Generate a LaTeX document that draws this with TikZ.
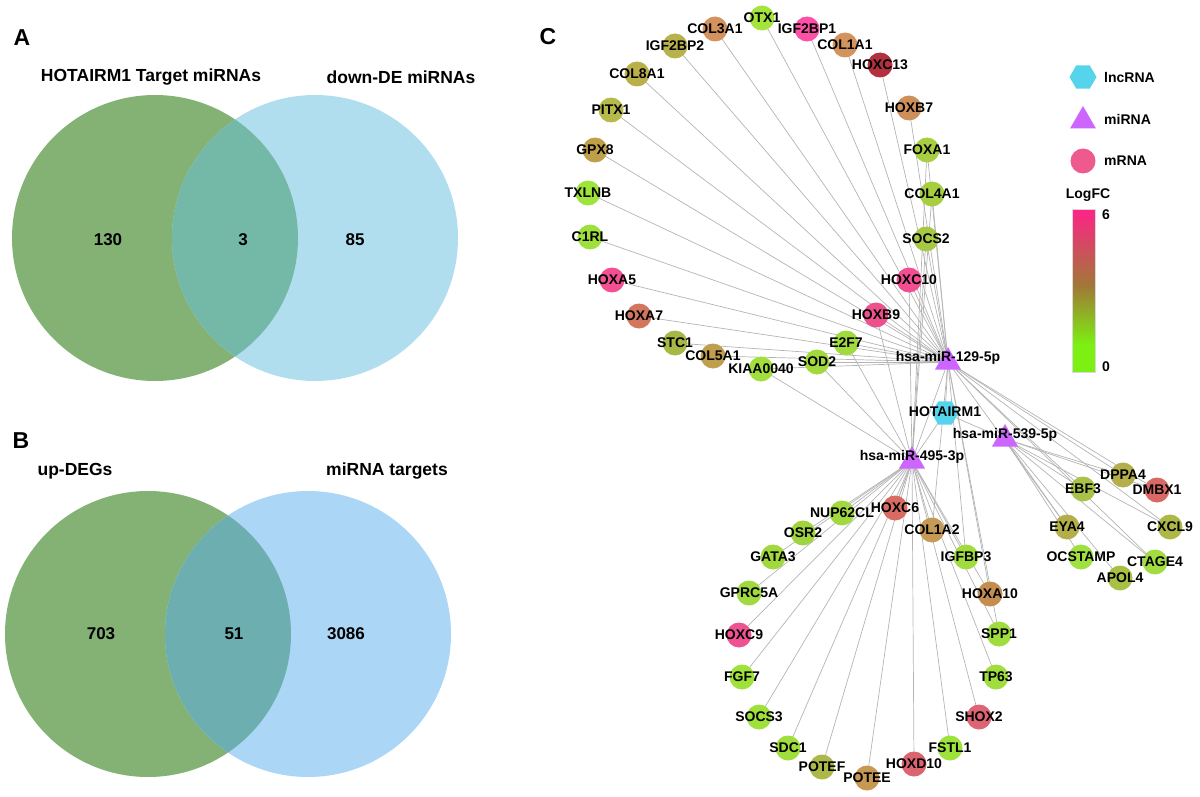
\documentclass[tikz,border=0pt]{standalone}
\usepackage{fontspec}
\setmainfont{Liberation Sans}
\usetikzlibrary{shapes.geometric}
\pgfdeclarelayer{background}
\pgfsetlayers{background,main}
\definecolor{vGreen}{HTML}{84B174}
\definecolor{vBlueA}{HTML}{B0DEEE}
\definecolor{vOvA}{HTML}{74B8A8}
\definecolor{vBlueB}{HTML}{ABD6F5}
\definecolor{vOvB}{HTML}{6DAFB0}
\definecolor{mirc}{HTML}{CC66FF}
\definecolor{lncc}{HTML}{55D4EC}
\definecolor{edgec}{HTML}{B4B4B4}
\definecolor{cbPink}{HTML}{FF2288}
\definecolor{cbMid}{HTML}{A07A36}
\definecolor{cbLime}{HTML}{7CF012}
\newcommand\gn[4]{\definecolor{c#1}{HTML}{#4}\node[gene, fill=c#1, label={[glab]center:#1}] (#1) at (#2,#3) {};}
\begin{document}
\begin{tikzpicture}[x=1pt,y=-1pt,
  gene/.style={circle, minimum size=25pt, inner sep=0pt},
  glab/.style={font=\bfseries\fontsize{14}{14}\selectfont, inner sep=0pt, text=black},
  mir/.style={regular polygon, regular polygon sides=3, minimum size=30pt, inner sep=0pt, fill=mirc},
  lnc/.style={regular polygon, regular polygon sides=6, minimum size=27pt, inner sep=0pt, fill=lncc},
  edge/.style={draw=edgec, line width=0.7pt},
  vtitle/.style={font=\bfseries\fontsize{17.5}{17.5}\selectfont, inner sep=0pt},
  vnum/.style={font=\bfseries\fontsize{17}{17}\selectfont, inner sep=0pt},
  panel/.style={font=\bfseries\fontsize{23}{23}\selectfont, inner sep=0pt},
  legtxt/.style={font=\bfseries\fontsize{14}{14}\selectfont, inner sep=0pt, anchor=west}]
\useasboundingbox (0,0) rectangle (1200,797);
% ---------- Panel A ----------
\node[panel] (pA) at (22,38) {A};
\fill[vGreen] (155,238) circle (143);
\fill[vBlueA] (315,238) circle (143);
\begin{scope}\clip (155,238) circle (143);\fill[vOvA] (315,238) circle (143);\end{scope}
\node[vtitle] (tA1) at (151,77) {HOTAIRM1 Target miRNAs};
\node[vtitle] (tA2) at (401,77) {down-DE miRNAs};
\node[vnum] (nA1) at (108,240) {130};
\node[vnum] (nA2) at (243,240) {3};
\node[vnum] (nA3) at (355,240) {85};
% ---------- Panel B ----------
\node[panel] (pB) at (21,441) {B};
\fill[vGreen] (148,634) circle (143);
\fill[vBlueB] (308,634) circle (143);
\begin{scope}\clip (148,634) circle (143);\fill[vOvB] (308,634) circle (143);\end{scope}
\node[vtitle] (tB1) at (75,471) {up-DEGs};
\node[vtitle] (tB2) at (387,471) {miRNA targets};
\node[vnum] (nB1) at (101,634) {703};
\node[vnum] (nB2) at (234,634) {51};
\node[vnum] (nB3) at (346,634) {3086};
% ---------- Panel C ----------
\node[panel] (pC) at (548,37) {C};
% top group
\gn{OTX1}{762}{18}{A3E53C}
\gn{IGF2BP1}{807}{29}{FF50A8}
\gn{COL3A1}{715}{29}{D4935E}
\gn{COL1A1}{845}{45}{D3935C}
\gn{IGF2BP2}{675}{46}{B8B24C}
\gn{COL8A1}{637}{74}{B9B04A}
\gn{PITX1}{611}{110}{B5BA4A}
\gn{GPX8}{595}{150}{BDA049}
\gn{TXLNB}{588}{193}{9EE43A}
\gn{C1RL}{590}{237}{9EE13C}
\gn{HOXA5}{612}{280}{F25092}
\gn{HOXA7}{639}{316}{D2765E}
\gn{STC1}{675}{343}{A8B847}
\gn{COL5A1}{713}{356}{BF9E4E}
\gn{KIAA0040}{761}{369}{A2DF3C}
\gn{SOD2}{817}{362}{A2DA3E}
\gn{E2F7}{846}{343}{A0DA3E}
\gn{HOXB9}{876}{315}{EE508E}
\gn{HOXC10}{909}{280}{F34E92}
\gn{SOCS2}{926}{239}{A7C844}
\gn{COL4A1}{932}{194}{A6CE40}
\gn{FOXA1}{927}{150}{A8CE42}
\gn{HOXB7}{909}{108}{CE905A}
\gn{HOXC13}{880}{65}{B3303F}
% right group
\gn{DPPA4}{1123}{475}{B4AE4C}
\gn{DMBX1}{1157}{490}{D86A66}
\gn{EBF3}{1083}{489}{A9C248}
\gn{CXCL9}{1170}{527}{AEB848}
\gn{EYA4}{1067}{527}{B4AE4A}
\gn{OCSTAMP}{1081}{557}{A0E040}
\gn{CTAGE4}{1155}{562}{A2DC40}
\gn{APOL4}{1120}{578}{A8C044}
% bottom group
\gn{NUP62CL}{842}{513}{A2D840}
\gn{OSR2}{803}{533}{A0D43E}
\gn{GATA3}{773}{557}{A0D83E}
\gn{GPRC5A}{749}{593}{A0DA40}
\gn{HOXC9}{739}{635}{EE5290}
\gn{FGF7}{742}{677}{9EE23A}
\gn{SOCS3}{759}{717}{A0E03C}
\gn{SDC1}{788}{748}{A0DE3E}
\gn{POTEF}{822}{767}{ACB848}
\gn{POTEE}{867}{778}{C69852}
\gn{HOXD10}{914}{764}{DC6470}
\gn{FSTL1}{950}{748}{9EE23C}
\gn{SHOX2}{979}{717}{DE6474}
\gn{TP63}{996}{677}{A0DE3E}
\gn{SPP1}{999}{634}{A0DC3E}
\gn{HOXA10}{990}{594}{C48E50}
\gn{IGFBP3}{966}{557}{A0DC3E}
\gn{COL1A2}{932}{530}{C49A56}
\gn{HOXC6}{895}{508}{D86C62}
% miRNAs and lncRNA
\node[lnc] (HOTAIRM1) at (945,413) {};
\node[glab] (HOTAIRM1t) at (945,412) {HOTAIRM1};
\node[mir] (m129) at (948,362) {};
\node[glab] (m129t) at (948,358) {hsa-miR-129-5p};
\node[mir] (m495) at (912,461) {};
\node[glab] (m495t) at (912,457) {hsa-miR-495-3p};
\node[mir] (m539) at (1005,439) {};
\node[glab] (m539t) at (1005,435) {hsa-miR-539-5p};
% edges
\begin{pgfonlayer}{background}
\foreach \g in {OTX1,IGF2BP1,COL3A1,COL1A1,IGF2BP2,COL8A1,PITX1,GPX8,TXLNB,C1RL,HOXA5,HOXA7,STC1,COL5A1,KIAA0040,SOD2,E2F7,HOXB9,HOXC10,SOCS2,COL4A1,FOXA1,HOXB7,HOXC13,HOXC6,COL1A2,IGFBP3,HOXA10,SPP1,DPPA4,DMBX1,EBF3,EYA4,CXCL9,CTAGE4}
  \draw[edge] (m129.center) -- (\g.center);
\foreach \g in {NUP62CL,HOXC6,COL1A2,OSR2,GATA3,IGFBP3,GPRC5A,HOXC9,FGF7,SOCS3,SDC1,POTEF,POTEE,HOXD10,FSTL1,SHOX2,TP63,SPP1,HOXA10,HOXB9,E2F7,SOD2,KIAA0040,SOCS2,COL4A1,HOXC10,FOXA1}
  \draw[edge] (m495.center) -- (\g.center);
\foreach \g in {DPPA4,DMBX1,EBF3,CXCL9,EYA4,OCSTAMP,CTAGE4,APOL4}
  \draw[edge] (m539.center) -- (\g.center);
\foreach \g in {m129,m495,m539}
  \draw[edge] (HOTAIRM1.center) -- (\g.center);
\end{pgfonlayer}
% legend
\node[lnc] (lgHex) at (1083,77) {};
\node[legtxt] (lgHexT) at (1104,77) {lncRNA};
\node[mir] (lgTri) at (1083,121) {};
\node[legtxt] (lgTriT) at (1104,119) {miRNA};
\node[gene, fill={rgb,255:red,238;green,90;blue,142}] (lgCirc) at (1083,161) {};
\node[legtxt] (lgCircT) at (1104,161) {mRNA};
\node[glab] (lgTitle) at (1088,195) {LogFC};
\shade[top color=cbPink, bottom color=cbMid] (1072,209) rectangle (1095,287);
\shade[top color=cbMid, bottom color=cbLime] (1072,286.5) rectangle (1095,345);
\fill[cbLime] (1072,344.5) rectangle (1095,372);
\draw[black!15, line width=0.5pt] (1072,209) rectangle (1095,372);
\node[legtxt] (cb6) at (1102,215) {6};
\node[legtxt] (cb0) at (1102,367) {0};
\end{tikzpicture}
\end{document}
